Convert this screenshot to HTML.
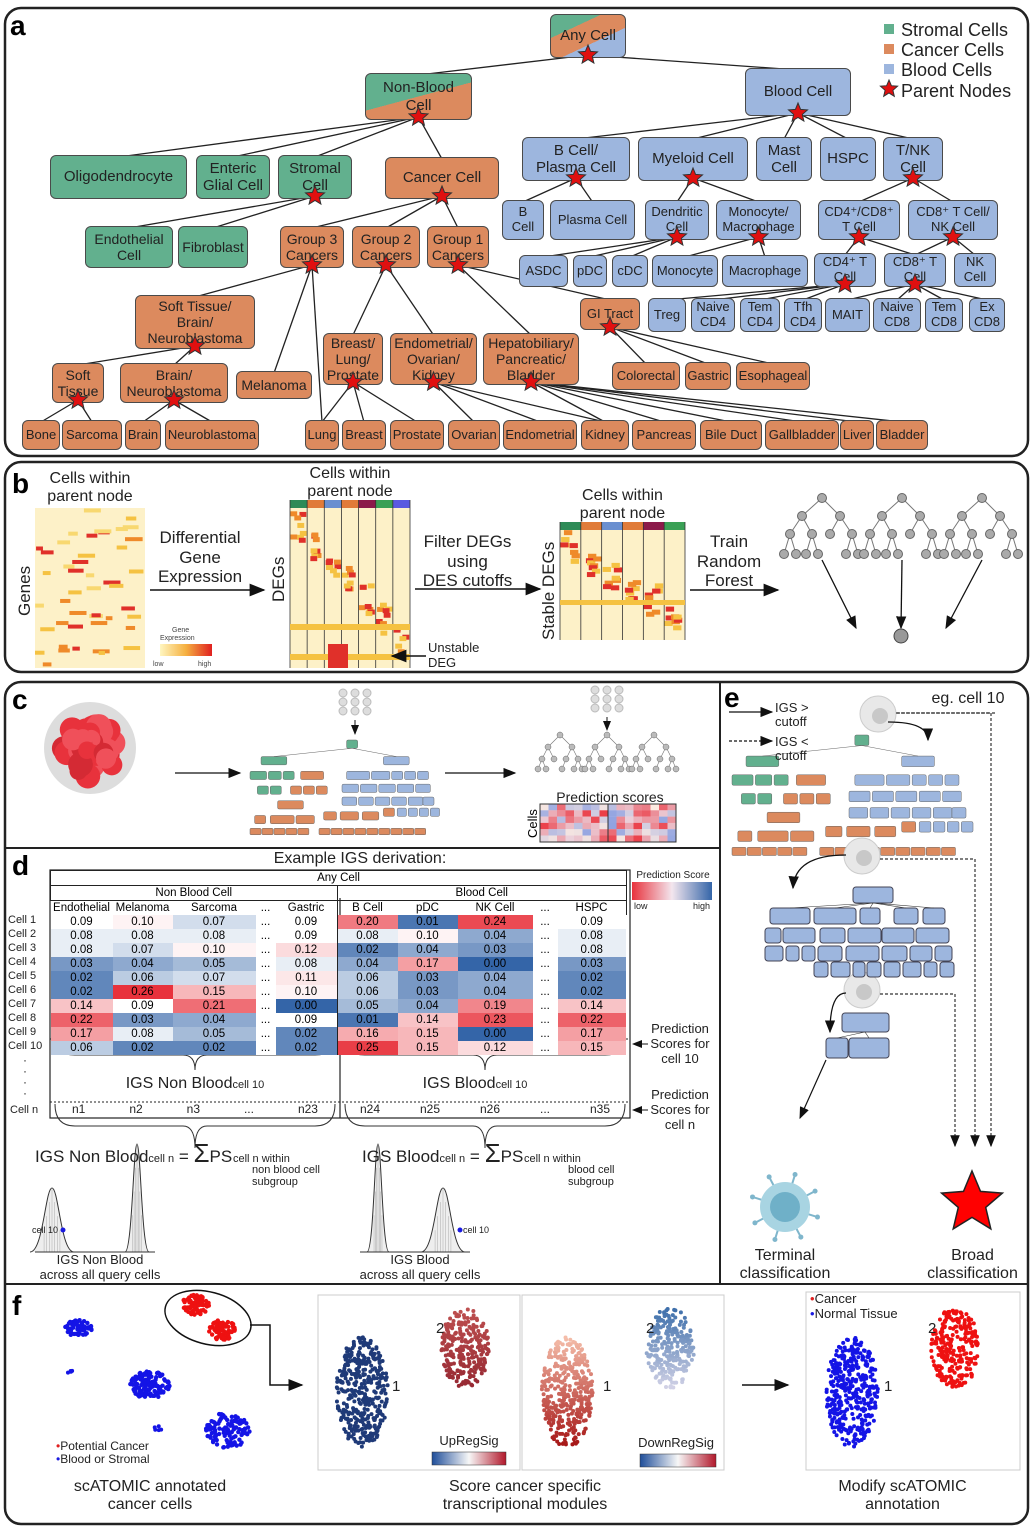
<!DOCTYPE html>
<html><head><meta charset="utf-8">
<style>
body{margin:0;width:1035px;height:1535px;background:#fff;position:relative;font-family:"Liberation Sans",sans-serif;overflow:hidden}
.n{position:absolute;border:1.5px solid #4a4a4a;border-radius:6px;display:flex;align-items:center;justify-content:center;text-align:center;font-size:15px;line-height:1.15;color:#222;box-sizing:border-box;z-index:2}
.g{background:#62b08e}.o{background:#dc8a5e}.b{background:#9db6de}
.s{font-size:13px}
.L{position:absolute;font-weight:bold;font-size:28px;z-index:3}
.t{position:absolute;text-align:center;color:#222;z-index:3;line-height:1.15}
.nw{white-space:nowrap}
svg{position:absolute;left:0;top:0}
#tbl{position:absolute;left:50px;top:870px;border-collapse:collapse;font-size:11.5px;z-index:3}
#tbl td{height:14px;padding:0;text-align:center;line-height:13px}
</style></head><body>
<svg id="bg" width="1035" height="1535" style="z-index:1">
<g fill="none" stroke="#222" stroke-width="2.5">
<rect x="5" y="8" width="1023" height="448" rx="16"/>
<rect x="5" y="462" width="1023" height="210" rx="16"/>
<rect x="5" y="682" width="1023" height="842" rx="16"/>
</g>
<g stroke="#222" stroke-width="2">
<line x1="5" y1="848" x2="720" y2="848"/>
<line x1="720" y1="682" x2="720" y2="1284"/>
<line x1="5" y1="1284" x2="1028" y2="1284"/>
</g>
<g id="edges" stroke="#222" stroke-width="1.3" fill="none"></g>
<g id="stars"></g>
<g id="dyn"></g>
</svg>

<div class="L" style="left:10px;top:10px">a</div>
<div class="L" style="left:12px;top:468px">b</div>
<div class="L" style="left:12px;top:684px">c</div>
<div class="L" style="left:12px;top:850px">d</div>
<div class="L" style="left:724px;top:682px">e</div>
<div class="L" style="left:12px;top:1290px">f</div>

<svg width="1035" height="120" style="z-index:3">
<rect x="884" y="24" width="10" height="10" fill="#62b08e"/>
<rect x="884" y="44" width="10" height="10" fill="#dc8a5e"/>
<rect x="884" y="64" width="10" height="10" fill="#9db6de"/>
<polygon id="lstar" fill="#e01010" stroke="#333" stroke-width="1"/>
<g font-size="18" fill="#222"><text x="901" y="36">Stromal Cells</text><text x="901" y="56">Cancer Cells</text><text x="901" y="76">Blood Cells</text><text x="901" y="97">Parent Nodes</text></g>
</svg>

<div class="n" id="any" style="left:550px;top:14px;width:76px;height:44px;background:linear-gradient(155deg,#62b08e 30%,#dc8a5e 30%,#dc8a5e 62%,#9db6de 62%)">Any Cell</div>
<div class="n" id="nonblood" style="left:365px;top:73px;width:107px;height:47px;background:linear-gradient(165deg,#62b08e 50%,#dc8a5e 50%)">Non-Blood<br>Cell</div>
<div class="n b" id="blood" style="left:745px;top:68px;width:106px;height:48px">Blood Cell</div>
<div class="n g" id="oligo" style="left:50px;top:155px;width:137px;height:44px">Oligodendrocyte</div>
<div class="n g" id="enteric" style="left:196px;top:155px;width:74px;height:44px">Enteric<br>Glial Cell</div>
<div class="n g" id="stromal" style="left:278px;top:155px;width:74px;height:44px">Stromal<br>Cell</div>
<div class="n o" id="cancer" style="left:385px;top:157px;width:114px;height:42px">Cancer Cell</div>
<div class="n b" id="bcp" style="left:522px;top:137px;width:108px;height:44px">B Cell/<br>Plasma Cell</div>
<div class="n b" id="myeloid" style="left:638px;top:137px;width:110px;height:44px">Myeloid Cell</div>
<div class="n b" id="mast" style="left:756px;top:137px;width:56px;height:44px">Mast<br>Cell</div>
<div class="n b" id="hspc" style="left:820px;top:137px;width:56px;height:44px">HSPC</div>
<div class="n b" id="tnk" style="left:883px;top:137px;width:60px;height:44px">T/NK<br>Cell</div>
<div class="n g s" id="endo" style="left:85px;top:226px;width:88px;height:42px;font-size:14px">Endothelial<br>Cell</div>
<div class="n g s" id="fibro" style="left:178px;top:226px;width:70px;height:42px;font-size:14px">Fibroblast</div>
<div class="n o s" id="g3" style="left:280px;top:226px;width:64px;height:42px;font-size:14px">Group 3<br>Cancers</div>
<div class="n o s" id="g2" style="left:352px;top:226px;width:68px;height:42px;font-size:14px">Group 2<br>Cancers</div>
<div class="n o s" id="g1" style="left:427px;top:226px;width:62px;height:42px;font-size:14px">Group 1<br>Cancers</div>
<div class="n b s" id="bc" style="left:502px;top:200px;width:42px;height:40px">B<br>Cell</div>
<div class="n b s" id="plasma" style="left:550px;top:200px;width:85px;height:40px">Plasma Cell</div>
<div class="n b s" id="dend" style="left:645px;top:200px;width:64px;height:40px">Dendritic<br>Cell</div>
<div class="n b s" id="monomac" style="left:716px;top:200px;width:85px;height:40px">Monocyte/<br>Macrophage</div>
<div class="n b s" id="cd48" style="left:818px;top:200px;width:82px;height:40px">CD4⁺/CD8⁺<br>T Cell</div>
<div class="n b s" id="cd8nk" style="left:908px;top:200px;width:90px;height:40px">CD8⁺ T Cell/<br>NK Cell</div>
<div class="n b s" id="asdc" style="left:519px;top:255px;width:49px;height:32px">ASDC</div>
<div class="n b s" id="pdc" style="left:573px;top:255px;width:34px;height:32px">pDC</div>
<div class="n b s" id="cdc" style="left:612px;top:255px;width:36px;height:32px">cDC</div>
<div class="n b s" id="mono" style="left:652px;top:255px;width:66px;height:32px">Monocyte</div>
<div class="n b s" id="macro" style="left:722px;top:255px;width:86px;height:32px">Macrophage</div>
<div class="n b s" id="cd4t" style="left:814px;top:253px;width:62px;height:34px">CD4⁺ T<br>Cell</div>
<div class="n b s" id="cd8t" style="left:884px;top:253px;width:62px;height:34px">CD8⁺ T<br>Cell</div>
<div class="n b s" id="nk" style="left:954px;top:253px;width:42px;height:34px">NK<br>Cell</div>
<div class="n o s" id="stbn" style="left:135px;top:295px;width:120px;height:54px;font-size:14px">Soft Tissue/<br>Brain/<br>Neuroblastoma</div>
<div class="n o s" id="gi" style="left:580px;top:298px;width:60px;height:32px">GI Tract</div>
<div class="n b s" id="treg" style="left:648px;top:298px;width:38px;height:34px">Treg</div>
<div class="n b s" id="ncd4" style="left:691px;top:298px;width:44px;height:34px">Naive<br>CD4</div>
<div class="n b s" id="tcd4" style="left:740px;top:298px;width:40px;height:34px">Tem<br>CD4</div>
<div class="n b s" id="fcd4" style="left:784px;top:298px;width:38px;height:34px">Tfh<br>CD4</div>
<div class="n b s" id="mait" style="left:825px;top:298px;width:45px;height:34px">MAIT</div>
<div class="n b s" id="ncd8" style="left:873px;top:298px;width:48px;height:34px">Naive<br>CD8</div>
<div class="n b s" id="tcd8" style="left:925px;top:298px;width:38px;height:34px">Tem<br>CD8</div>
<div class="n b s" id="ecd8" style="left:969px;top:298px;width:36px;height:34px">Ex<br>CD8</div>
<div class="n o s" id="blp" style="left:323px;top:333px;width:60px;height:52px;font-size:14px">Breast/<br>Lung/<br>Prostate</div>
<div class="n o s" id="eok" style="left:390px;top:333px;width:87px;height:52px;font-size:14px">Endometrial/<br>Ovarian/<br>Kidney</div>
<div class="n o s" id="hpb" style="left:483px;top:333px;width:96px;height:52px;font-size:14px">Hepatobiliary/<br>Pancreatic/<br>Bladder</div>
<div class="n o s" id="mel" style="left:236px;top:371px;width:76px;height:28px;font-size:14px">Melanoma</div>
<div class="n o s" id="soft" style="left:52px;top:363px;width:52px;height:40px;font-size:14px">Soft<br>Tissue</div>
<div class="n o s" id="bn" style="left:120px;top:363px;width:108px;height:40px;font-size:14px">Brain/<br>Neuroblastoma</div>
<div class="n o s" id="colo" style="left:612px;top:362px;width:68px;height:28px">Colorectal</div>
<div class="n o s" id="gas" style="left:685px;top:362px;width:46px;height:28px">Gastric</div>
<div class="n o s" id="eso" style="left:736px;top:362px;width:74px;height:28px">Esophageal</div>
<div class="n o s" id="bone" style="left:22px;top:420px;width:38px;height:30px">Bone</div>
<div class="n o s" id="sarc" style="left:62px;top:420px;width:60px;height:30px">Sarcoma</div>
<div class="n o s" id="brain" style="left:125px;top:420px;width:36px;height:30px">Brain</div>
<div class="n o s" id="neuro" style="left:165px;top:420px;width:94px;height:30px">Neuroblastoma</div>
<div class="n o s" id="lung" style="left:305px;top:420px;width:34px;height:30px">Lung</div>
<div class="n o s" id="breast" style="left:342px;top:420px;width:44px;height:30px">Breast</div>
<div class="n o s" id="pros" style="left:390px;top:420px;width:54px;height:30px">Prostate</div>
<div class="n o s" id="ova" style="left:448px;top:420px;width:52px;height:30px">Ovarian</div>
<div class="n o s" id="endom" style="left:503px;top:420px;width:74px;height:30px">Endometrial</div>
<div class="n o s" id="kid" style="left:581px;top:420px;width:48px;height:30px">Kidney</div>
<div class="n o s" id="panc" style="left:632px;top:420px;width:64px;height:30px">Pancreas</div>
<div class="n o s" id="bile" style="left:700px;top:420px;width:62px;height:30px">Bile Duct</div>
<div class="n o s" id="gall" style="left:765px;top:420px;width:74px;height:30px">Gallbladder</div>
<div class="n o s" id="liver" style="left:840px;top:420px;width:34px;height:30px">Liver</div>
<div class="n o s" id="blad" style="left:876px;top:420px;width:52px;height:30px">Bladder</div>

<div class="t" style="left:30px;top:470px;width:120px;font-size:16px">Cells within<br>parent node</div>
<div class="t" style="left:150px;top:528px;width:100px;font-size:17px">Differential<br>Gene<br>Expression</div>
<div class="t" style="left:290px;top:465px;width:120px;font-size:16px">Cells within<br>parent node</div>
<div class="t" style="left:410px;top:532px;width:115px;font-size:17px">Filter DEGs<br>using<br>DES cutoffs</div>
<div class="t" style="left:560px;top:487px;width:125px;font-size:16px">Cells within<br>parent node</div>
<div class="t" style="left:690px;top:532px;width:78px;font-size:17px">Train<br>Random<br>Forest</div>
<div class="t" style="left:428px;top:641px;width:70px;font-size:13px;text-align:left">Unstable<br>DEG</div>
<svg width="1035" height="1535" style="z-index:3">
<g font-size="17" fill="#222">
<text transform="translate(30,616) rotate(-90)">Genes</text>
<text transform="translate(284,602) rotate(-90)">DEGs</text>
<text transform="translate(554,640) rotate(-90)">Stable DEGs</text>
</g>
<g font-size="7" fill="#444"><text x="172" y="632">Gene</text><text x="160" y="640">Expression</text><text x="153" y="666">low</text><text x="198" y="666">high</text></g>
<defs><linearGradient id="ge"><stop offset="0" stop-color="#fff6c0"/><stop offset=".5" stop-color="#f5b040"/><stop offset="1" stop-color="#e02020"/></linearGradient>
<linearGradient id="ps"><stop offset="0" stop-color="#e8323c"/><stop offset=".5" stop-color="#f3e6ee"/><stop offset="1" stop-color="#3465a8"/></linearGradient>
<marker id="ar" markerWidth="10" markerHeight="8" refX="9" refY="4" orient="auto"><path d="M0,0L10,4L0,8z" fill="#111"/></marker></defs>
<rect x="160" y="644" width="52" height="12" fill="url(#ge)"/>
<g stroke="#111" stroke-width="1.6" marker-end="url(#ar)">
<line x1="150" y1="590" x2="264" y2="590"/>
<line x1="415" y1="589" x2="540" y2="589"/>
<line x1="690" y1="590" x2="778" y2="590"/>
<line x1="426" y1="656" x2="392" y2="656"/>
</g>
</svg>

<div class="t" style="left:540px;top:789px;width:140px;font-size:14px">Prediction scores</div>
<svg width="1035" height="1535" style="z-index:3"><text transform="translate(537,838) rotate(-90)" font-size="13">Cells</text></svg>

<div class="t" style="left:200px;top:850px;width:320px;font-size:16px">Example IGS derivation:</div>
<div class="t" style="left:632px;top:870px;width:82px;font-size:10px">Prediction Score</div>
<div class="t" style="left:634px;top:901px;width:80px;font-size:9px;text-align:left">low<span style="float:right;margin-right:4px">high</span></div>
<table id="tbl">
<tr><td colspan="11" style="border:1px solid #222;border-bottom:1px solid #222">Any Cell</td></tr>
<tr><td colspan="5" style="border:1px solid #222">Non Blood Cell</td><td colspan="6" style="border:1px solid #222">Blood Cell</td></tr>
<tr class="h"><td style="width:62px">Endothelial</td><td style="width:60px">Melanoma</td><td style="width:83px">Sarcoma</td><td style="width:20px">...</td><td style="width:61px;border-right:1px solid #222">Gastric</td><td style="width:60px">B Cell</td><td style="width:60px">pDC</td><td style="width:75px">NK Cell</td><td style="width:25px">...</td><td style="width:68px;border-right:1px solid #222">HSPC</td><td style="width:0"></td></tr>
<tr class="v"><td>0.09</td><td>0.10</td><td>0.07</td><td>...</td><td>0.09</td><td>0.20</td><td>0.01</td><td>0.24</td><td>...</td><td>0.09</td></tr>
<tr class="v"><td>0.08</td><td>0.08</td><td>0.08</td><td>...</td><td>0.09</td><td>0.08</td><td>0.10</td><td>0.04</td><td>...</td><td>0.08</td></tr>
<tr class="v"><td>0.08</td><td>0.07</td><td>0.10</td><td>...</td><td>0.12</td><td>0.02</td><td>0.04</td><td>0.03</td><td>...</td><td>0.08</td></tr>
<tr class="v"><td>0.03</td><td>0.04</td><td>0.05</td><td>...</td><td>0.08</td><td>0.04</td><td>0.17</td><td>0.00</td><td>...</td><td>0.03</td></tr>
<tr class="v"><td>0.02</td><td>0.06</td><td>0.07</td><td>...</td><td>0.11</td><td>0.06</td><td>0.03</td><td>0.04</td><td>...</td><td>0.02</td></tr>
<tr class="v"><td>0.02</td><td>0.26</td><td>0.15</td><td>...</td><td>0.10</td><td>0.06</td><td>0.03</td><td>0.04</td><td>...</td><td>0.02</td></tr>
<tr class="v"><td>0.14</td><td>0.09</td><td>0.21</td><td>...</td><td>0.00</td><td>0.05</td><td>0.04</td><td>0.19</td><td>...</td><td>0.14</td></tr>
<tr class="v"><td>0.22</td><td>0.03</td><td>0.04</td><td>...</td><td>0.09</td><td>0.01</td><td>0.14</td><td>0.23</td><td>...</td><td>0.22</td></tr>
<tr class="v"><td>0.17</td><td>0.08</td><td>0.05</td><td>...</td><td>0.02</td><td>0.16</td><td>0.15</td><td>0.00</td><td>...</td><td>0.17</td></tr>
<tr class="v"><td>0.06</td><td>0.02</td><td>0.02</td><td>...</td><td>0.02</td><td>0.25</td><td>0.15</td><td>0.12</td><td>...</td><td>0.15</td></tr>
</table>
<div class="t" style="left:8px;top:913px;width:40px;font-size:11px;text-align:left;line-height:14px">Cell 1<br>Cell 2<br>Cell 3<br>Cell 4<br>Cell 5<br>Cell 6<br>Cell 7<br>Cell 8<br>Cell 9<br>Cell 10</div>
<div class="t" style="left:20px;top:1055px;width:10px;font-size:12px;line-height:11px">·<br>·<br>·<br>·</div>
<div class="t" style="left:10px;top:1104px;width:40px;font-size:11px;text-align:left">Cell n</div>
<div class="t nw" style="left:95px;top:1075px;width:200px;font-size:16px">IGS Non Blood<span style="font-size:11px">cell 10</span></div>
<div class="t nw" style="left:390px;top:1075px;width:170px;font-size:16px">IGS Blood<span style="font-size:11px">cell 10</span></div>
<div class="t" style="left:50px;top:1103px;width:290px;font-size:12px;display:flex;justify-content:space-around"><span>n1</span><span>n2</span><span>n3</span><span>...</span><span>n23</span></div>
<div class="t" style="left:340px;top:1103px;width:290px;font-size:12px;display:flex;justify-content:space-around"><span>n24</span><span>n25</span><span>n26</span><span>...</span><span>n35</span></div>
<div class="t" style="left:645px;top:1022px;width:70px;font-size:13px">Prediction<br>Scores for<br>cell 10</div>
<div class="t" style="left:645px;top:1088px;width:70px;font-size:13px">Prediction<br>Scores for<br>cell n</div>
<div class="t nw" style="left:35px;top:1143px;font-size:17px;text-align:left">IGS Non Blood<span style="font-size:11px">cell n</span> = <span style="font-size:26px;line-height:20px">Σ</span>PS</div>
<div class="t nw" style="left:233px;top:1153px;font-size:11px;text-align:left">cell n within</div>
<div class="t nw" style="left:252px;top:1164px;font-size:11px;text-align:left;line-height:12px">non blood cell<br>subgroup</div>
<div class="t nw" style="left:362px;top:1143px;font-size:17px;text-align:left">IGS Blood<span style="font-size:11px">cell n</span> = <span style="font-size:26px;line-height:20px">Σ</span>PS</div>
<div class="t nw" style="left:524px;top:1153px;font-size:11px;text-align:left">cell n within</div>
<div class="t nw" style="left:568px;top:1164px;font-size:11px;text-align:left;line-height:12px">blood cell<br>subgroup</div>
<div class="t" style="left:25px;top:1225px;width:40px;font-size:9px">cell 10</div>
<div class="t" style="left:456px;top:1225px;width:40px;font-size:9px">cell 10</div>
<div class="t" style="left:20px;top:1253px;width:160px;font-size:13px">IGS Non Blood<br>across all query cells</div>
<div class="t" style="left:340px;top:1253px;width:160px;font-size:13px">IGS Blood<br>across all query cells</div>

<div class="t" style="left:775px;top:701px;width:60px;font-size:13px;text-align:left;line-height:14px">IGS &gt;<br>cutoff</div>
<div class="t" style="left:775px;top:735px;width:60px;font-size:13px;text-align:left;line-height:14px">IGS &lt;<br>cutoff</div>
<div class="t" style="left:918px;top:690px;width:100px;font-size:16px">eg. cell 10</div>
<div class="t" style="left:725px;top:1247px;width:120px;font-size:16px">Terminal<br>classification</div>
<div class="t" style="left:915px;top:1247px;width:115px;font-size:16px">Broad<br>classification</div>

<div class="t" style="left:50px;top:1478px;width:200px;font-size:16px">scATOMIC annotated<br>cancer cells</div>
<div class="t" style="left:400px;top:1478px;width:250px;font-size:16px">Score cancer specific<br>transcriptional modules</div>
<div class="t" style="left:805px;top:1478px;width:195px;font-size:16px">Modify scATOMIC<br>annotation</div>
<div class="t" style="left:56px;top:1440px;width:120px;font-size:12px;text-align:left;line-height:13px"><span style="color:#e02020">•</span>Potential Cancer<br><span style="color:#1a1ae0">•</span>Blood or Stromal</div>
<div class="t" style="left:810px;top:1291px;width:120px;font-size:13px;text-align:left;line-height:15px"><span style="color:#e02020">•</span>Cancer<br><span style="color:#1a1ae0">•</span>Normal Tissue</div>
<div class="t" style="left:434px;top:1434px;width:70px;font-size:13px">UpRegSig</div>
<div class="t" style="left:636px;top:1436px;width:80px;font-size:13px">DownRegSig</div>
<div class="t" style="left:392px;top:1378px;font-size:15px">1</div>
<div class="t" style="left:436px;top:1320px;font-size:15px">2</div>
<div class="t" style="left:603px;top:1378px;font-size:15px">1</div>
<div class="t" style="left:646px;top:1320px;font-size:15px">2</div>
<div class="t" style="left:884px;top:1378px;font-size:15px">1</div>
<div class="t" style="left:928px;top:1320px;font-size:15px">2</div>

<script>
var NS="http://www.w3.org/2000/svg";
function el(t,a,p){var e=document.createElementNS(NS,t);for(var k in a)e.setAttribute(k,a[k]);(p||document.getElementById('dyn')).appendChild(e);return e;}
function starPts(cx,cy,R){var r=R*0.45,p=[];for(var i=0;i<10;i++){var a=-Math.PI/2+i*Math.PI/5,rr=i%2?r:R;p.push((cx+rr*Math.cos(a)).toFixed(1)+","+(cy+rr*Math.sin(a)).toFixed(1));}return p.join(" ");}
document.getElementById('lstar').setAttribute('points',starPts(889,89,9));
function box(id){var e=document.getElementById(id);return {x:e.offsetLeft,y:e.offsetTop,w:e.offsetWidth,h:e.offsetHeight};}
var E={any:['nonblood','blood'],nonblood:['oligo','enteric','stromal','cancer'],stromal:['endo','fibro'],cancer:['g3','g2','g1'],
blood:['bcp','myeloid','mast','hspc','tnk'],bcp:['bc','plasma'],myeloid:['dend','monomac'],dend:['asdc','pdc','cdc'],monomac:['mono','macro'],
tnk:['cd48','cd8nk'],cd48:['cd4t','cd8t'],cd8nk:['cd8t','nk'],cd4t:['treg','ncd4','tcd4','fcd4'],cd8t:['mait','ncd8','tcd8','ecd8'],
g3:['stbn','mel','lung'],g2:['blp','eok'],g1:['hpb','gi'],stbn:['soft','bn'],soft:['bone','sarc'],bn:['brain','neuro'],
blp:['lung','breast','pros'],eok:['ova','endom','kid'],hpb:['panc','bile','gall','liver','blad','kid'],gi:['colo','gas','eso']};
var eg=document.getElementById('edges'),sg=document.getElementById('stars');
for(var p in E){var a=box(p),sx=a.x+a.w/2,sy=a.y+a.h-3;
E[p].forEach(function(c){var b=box(c);el('line',{x1:sx,y1:sy,x2:b.x+b.w/2,y2:b.y+2},eg);});
el('polygon',{points:starPts(sx,sy,10),fill:'#e01010',stroke:'#333','stroke-width':1},sg);}
var sv=document.createElementNS(NS,'svg');sv.setAttribute('width',1035);sv.setAttribute('height',470);sv.style.zIndex=4;sv.style.position='absolute';sv.style.left=0;sv.style.top=0;sv.appendChild(sg);document.body.appendChild(sv);

var s=7;function r(){s=(s*16807)%2147483647;return s/2147483647;}
el('rect',{x:35,y:508,width:110,height:160,fill:'#fdf1c8'});
var cols=['#f5c242','#ef8a2a','#e0302a','#f8d870'];
for(var i=0;i<45;i++)el('rect',{x:35+r()*100,y:508+r()*155,width:6+r()*12,height:4,fill:cols[i%4]});
function hm(x,y,w,h,n,bar,extra){el('rect',{x:x,y:y,width:w,height:h,fill:'#fdf1c8'});var cw=w/n;
var bc=['#2e8b57','#e07b39','#6a8fd0','#e07b39','#8b1a4a','#3aa055','#5a5ae0'];
for(var i=0;i<n;i++){el('rect',{x:x+i*cw,y:y,width:cw,height:bar,fill:bc[i%7]});
var by=y+bar+i*(h-bar-30)/n;for(var k=0;k<8;k++)el('rect',{x:x+i*cw+r()*cw*0.6,y:by+r()*30,width:cw*0.4,height:5,fill:cols[(k+i)%3+0]});
el('line',{x1:x+i*cw,y1:y,x2:x+i*cw,y2:y+h,stroke:'#333','stroke-width':0.8});}
el('line',{x1:x+w,y1:y,x2:x+w,y2:y+h,stroke:'#333','stroke-width':0.8});
if(extra){el('rect',{x:x,y:y+h-44,width:w,height:6,fill:'#f5c242'});el('rect',{x:x,y:y+h-14,width:w,height:6,fill:'#f5c242'});el('rect',{x:x+38,y:y+h-24,width:20,height:24,fill:'#e0302a'});}
else{el('rect',{x:x,y:y+h-40,width:w,height:5,fill:'#f5c242'});}}
hm(290,500,120,168,7,8,true);
hm(560,522,125,118,6,8,false);
function tree(cx,ty){var L=[[cx-20,ty+18],[cx+18,ty+18]],L2=[[cx-32,ty+36],[cx-10,ty+36],[cx+8,ty+36],[cx+30,ty+36]],L3=[[cx-38,ty+56],[cx-26,ty+56],[cx-16,ty+56],[cx-4,ty+56],[cx+24,ty+56],[cx+36,ty+56]];
L.forEach(function(q){el('line',{x1:cx,y1:ty,x2:q[0],y2:q[1],stroke:'#777'});});
L2.forEach(function(q,i){var pp=L[i<2?0:1];el('line',{x1:pp[0],y1:pp[1],x2:q[0],y2:q[1],stroke:'#777'});});
L3.forEach(function(q,i){var pp=L2[[0,0,1,1,3,3][i]];el('line',{x1:pp[0],y1:pp[1],x2:q[0],y2:q[1],stroke:'#777'});});
[[cx,ty]].concat(L,L2,L3).forEach(function(q){el('circle',{cx:q[0],cy:q[1],r:4.5,fill:'#aaa',stroke:'#666'});});}
tree(822,498);tree(902,498);tree(982,498);
['822','902','982'].forEach(function(x){el('line',{x1:x,y1:560,x2:(+x+900)/2+ (x=='902'?0:(x<900?-5:5)),y2:628,stroke:'#111','stroke-width':1.3,'marker-end':'url(#ar)'});});
el('circle',{cx:901,cy:636,r:7,fill:'#999',stroke:'#444'});
el('circle',{cx:90,cy:748,r:46,fill:'#ddd'});
for(var i=0;i<60;i++){var a=r()*6.28,d=r()*30;el('circle',{cx:90+d*Math.cos(a),cy:748+d*Math.sin(a),r:8+r()*5,fill:['#e8323c','#d42a34','#f0505a'][i%3]});}
el('line',{x1:175,y1:773,x2:240,y2:773,stroke:'#111','stroke-width':1.3,'marker-end':'url(#ar)'});
el('line',{x1:445,y1:773,x2:515,y2:773,stroke:'#111','stroke-width':1.3,'marker-end':'url(#ar)'});
function dots(cx,cy){for(var i=0;i<3;i++)for(var j=0;j<3;j++)el('circle',{cx:cx-12+j*12,cy:cy+i*9,r:4,fill:'#ddd',stroke:'#bbb'});}
dots(355,693);dots(607,690);
el('line',{x1:355,y1:720,x2:355,y2:734,stroke:'#111','marker-end':'url(#ar)'});
el('line',{x1:607,y1:717,x2:607,y2:730,stroke:'#111','marker-end':'url(#ar)'});
function mini(x0,y0,sc){var G='#62b08e',O='#dc8a5e',B='#9db6de';
var rows=[[[105,0,12,G]],[[12,18,28,G],[145,18,28,B]],[[0,34,18,G],[20,34,14,G],[36,34,12,G],[55,34,25,O],[105,34,25,B],[132,34,20,B],[154,34,12,B],[168,34,12,B],[182,34,12,B]],
[[8,50,12,G],[22,50,12,G],[44,50,12,O],[58,50,12,O],[72,50,12,O],[100,48,18,B],[120,48,18,B],[140,48,18,B],[160,48,18,B],[180,48,16,B]],
[[30,66,28,O],[100,62,16,B],[118,62,16,B],[136,62,16,B],[154,62,16,B],[172,62,16,B],[188,62,12,B]],
[[5,82,12,O],[22,82,26,O],[50,82,20,O],[80,78,14,O],[98,78,20,O],[122,78,18,O],[145,74,12,O],[160,74,10,B],[172,74,10,B],[184,74,10,B],[196,74,10,B]],
[[0,96,210,O]]];
rows.forEach(function(rw){rw.forEach(function(q){if(q[2]>150){for(var k=0;k<14;k++)el('rect',{x:x0+(q[0]+k*13+(k>4?10:0))*sc,y:y0+q[1]*sc,width:12*sc,height:7*sc,fill:q[3],stroke:'#666','stroke-width':.5,rx:1});}
else el('rect',{x:x0+q[0]*sc,y:y0+q[1]*sc,width:q[2]*sc,height:9*sc,fill:q[3],stroke:'#666','stroke-width':.5,rx:1.5});});});
el('line',{x1:x0+111*sc,y1:y0+9*sc,x2:x0+26*sc,y2:y0+18*sc,stroke:'#666','stroke-width':.5});el('line',{x1:x0+111*sc,y1:y0+9*sc,x2:x0+159*sc,y2:y0+18*sc,stroke:'#666','stroke-width':.5});}
mini(250,740,0.92);
mini(732,735,1.17);
[[560,735],[607,735],[654,735]].forEach(function(q){var c=q[0],t=q[1];
[[c-12,t+12],[c+12,t+12],[c-18,t+24],[c-6,t+24],[c+6,t+24],[c+18,t+24],[c-22,t+34],[c-14,t+34],[c+2,t+34],[c+14,t+34],[c+22,t+34]].forEach(function(z,i){var par=i<2?[c,t]:(i<6?[i<4?c-12:c+12,t+12]:[[c-18,t+24],[c-18,t+24],[c+6,t+24],[c+18,t+24],[c+18,t+24]][i-6]);el('line',{x1:par[0],y1:par[1],x2:z[0],y2:z[1],stroke:'#777','stroke-width':.6});});
[[c,t],[c-12,t+12],[c+12,t+12],[c-18,t+24],[c-6,t+24],[c+6,t+24],[c+18,t+24],[c-22,t+34],[c-14,t+34],[c+2,t+34],[c+14,t+34],[c+22,t+34]].forEach(function(z){el('circle',{cx:z[0],cy:z[1],r:3,fill:'#bbb',stroke:'#666','stroke-width':.5});});});
for(var i=0;i<6;i++)for(var j=0;j<16;j++){var v=r();var c=v<.5?'rgb('+Math.round(140+230*v)+','+Math.round(160+150*v)+',225)':'rgb(235,'+Math.round(360-300*v)+','+Math.round(370-300*v)+')';el('rect',{x:540+j*8.5,y:804+i*6.3,width:8.6,height:6.4,fill:c});}
el('rect',{x:540,y:804,width:136,height:38,fill:'none',stroke:'#333'});
el('line',{x1:608,y1:804,x2:608,y2:842,stroke:'#333'});
el('rect',{x:632,y:882,width:80,height:18,fill:'url(#ps)'});
el('rect',{x:50,y:870,width:580,height:248,fill:'none',stroke:'#222','stroke-width':1.2});
el('line',{x1:340,y1:898,x2:340,y2:1118,stroke:'#222','stroke-width':1.2});
el('line',{x1:50,y1:1102,x2:630,y2:1102,stroke:'#222','stroke-dasharray':'2,2'});
el('line',{x1:50,y1:1039,x2:630,y2:1039,stroke:'#222','stroke-dasharray':'2,2'});
function brace(x1,x2,y,d){var m=(x1+x2)/2;el('path',{d:'M'+x1+','+y+' Q'+x1+','+(y+d*0.5)+' '+(x1+20)+','+(y+d*0.5)+' L'+(m-12)+','+(y+d*0.5)+' Q'+m+','+(y+d*0.5)+' '+m+','+(y+d)+' Q'+m+','+(y+d*0.5)+' '+(m+12)+','+(y+d*0.5)+' L'+(x2-20)+','+(y+d*0.5)+' Q'+x2+','+(y+d*0.5)+' '+x2+','+y,fill:'none',stroke:'#333','stroke-width':1});}
brace(55,335,1040,30);brace(345,625,1040,30);brace(55,335,1104,44);brace(345,625,1104,44);
el('line',{x1:648,y1:1044,x2:633,y2:1044,stroke:'#111','marker-end':'url(#ar)'});
el('line',{x1:648,y1:1110,x2:633,y2:1110,stroke:'#111','marker-end':'url(#ar)'});
function peak(cx,w,h,base){el('path',{d:'M'+(cx-w)+','+base+' C'+(cx-w*0.4)+','+base+' '+(cx-w*0.3)+','+(base-h)+' '+cx+','+(base-h)+' C'+(cx+w*0.3)+','+(base-h)+' '+(cx+w*0.4)+','+base+' '+(cx+w)+','+base,fill:'#eee',stroke:'#333','stroke-width':1});
for(var k=-3;k<=3;k++)el('line',{x1:cx+k*w*0.12,y1:base,x2:cx+k*w*0.12,y2:base-h*(1-Math.abs(k)*0.22),stroke:'#aaa','stroke-width':.5});}
peak(52,22,64,1252);peak(137,12,108,1252);peak(378,11,108,1252);peak(443,22,64,1252);
el('line',{x1:35,y1:1252,x2:155,y2:1252,stroke:'#333'});el('line',{x1:360,y1:1252,x2:470,y2:1252,stroke:'#333'});
el('circle',{cx:63,cy:1230,r:2.5,fill:'#1a1ae0'});el('circle',{cx:460,cy:1230,r:2.5,fill:'#1a1ae0'});
function cell(cx,cy){el('circle',{cx:cx,cy:cy,r:18,fill:'#e8e8e8',stroke:'#ccc'});el('circle',{cx:cx+2,cy:cy+2,r:8,fill:'#c8c8c8'});}
el('line',{x1:729,y1:712,x2:772,y2:712,stroke:'#111','stroke-width':1.3,'marker-end':'url(#ar)'});
el('line',{x1:729,y1:741,x2:772,y2:741,stroke:'#111','stroke-width':1.3,'stroke-dasharray':'3,2','marker-end':'url(#ar)'});
cell(878,714);cell(862,856);cell(862,990);
var ds={stroke:'#333','stroke-width':1.2,'stroke-dasharray':'3,2',fill:'none','marker-end':'url(#ar)'};
el('path',Object.assign({d:'M896,713 H991 V1146'},ds));el('path',{d:'M897,713 H995',stroke:'#333','stroke-width':1.2,'stroke-dasharray':'3,2'});
el('path',Object.assign({d:'M880,859 H975 V1146'},ds));
el('path',Object.assign({d:'M880,994 H955 V1146'},ds));
el('path',{d:'M888,722 Q928,722 928,740',stroke:'#111','stroke-width':1.3,fill:'none','marker-end':'url(#ar)'});
el('path',{d:'M846,855 Q795,855 793,888',stroke:'#111','stroke-width':1.3,fill:'none','marker-end':'url(#ar)'});
el('path',{d:'M846,993 Q830,993 830,1032',stroke:'#111','stroke-width':1.3,fill:'none','marker-end':'url(#ar)'});
function bb(x,y,w,h){el('rect',{x:x,y:y,width:w,height:h,fill:'#9db6de',stroke:'#445','stroke-width':1,rx:3});}
bb(853,887,40,16);
[[770,908,40],[814,908,42],[860,908,20],[894,908,24],[923,908,22]].forEach(function(q){bb(q[0],q[1],q[2],16);el('line',{x1:873,y1:903,x2:q[0]+q[2]/2,y2:908,stroke:'#333','stroke-width':.6});});
[[765,928,16],[783,928,32],[820,928,25],[848,928,33],[882,928,32],[916,928,33]].forEach(function(q){bb(q[0],q[1],q[2],15);});
[[765,946,18],[786,946,13],[802,946,13],[818,946,24],[846,946,33],[882,946,25],[910,946,22],[935,946,17]].forEach(function(q){bb(q[0],q[1],q[2],15);});
[[814,962,14],[831,962,19],[853,962,12],[867,962,14],[884,962,16],[903,962,18],[924,962,13],[940,962,14]].forEach(function(q){bb(q[0],q[1],q[2],15);});
bb(842,1013,47,19);bb(826,1038,22,20);bb(849,1038,40,20);
el('line',{x1:865,y1:1032,x2:837,y2:1038,stroke:'#333','stroke-width':.6});el('line',{x1:865,y1:1032,x2:869,y2:1038,stroke:'#333','stroke-width':.6});
el('line',{x1:826,y1:1060,x2:800,y2:1118,stroke:'#111','stroke-width':1.2,'marker-end':'url(#ar)'});
el('polygon',{points:starPts(972,1203,32),fill:'#f00',stroke:'#222','stroke-width':1.5});
for(var k=0;k<8;k++){var a=k*Math.PI/4+0.3,x1=785+24*Math.cos(a),y1=1207+24*Math.sin(a),x2=785+34*Math.cos(a),y2=1207+34*Math.sin(a);el('line',{x1:x1,y1:y1,x2:x2,y2:y2,stroke:'#7fb6cc','stroke-width':2});el('circle',{cx:x2,cy:y2,r:2.5,fill:'#7fb6cc'});}
el('circle',{cx:785,cy:1207,r:25,fill:'#a8d4e2'});el('circle',{cx:785,cy:1207,r:15,fill:'#6fb0c8'});
el('rect',{x:318,y:1295,width:202,height:175,fill:'none',stroke:'#ccc'});el('rect',{x:522,y:1295,width:202,height:175,fill:'none',stroke:'#ccc'});el('rect',{x:806,y:1292,width:214,height:178,fill:'none',stroke:'#ccc'});
function blob(cx,cy,rx,ry,n,colf,rad){for(var i=0;i<n;i++){var a=r()*6.283,d=Math.sqrt(r());var x=cx+rx*d*Math.cos(a),y=cy+ry*d*Math.sin(a);el('circle',{cx:x,cy:y,r:rad||2,fill:colf(x,y)});}}
var BL=function(){return '#1414e6'},RD=function(){return '#ee1111'};
blob(78,1328,14,8,60,BL,2.2);blob(150,1385,20,14,140,BL,2.2);blob(228,1430,22,18,110,BL,2.2);blob(70,1372,3,3,4,BL);blob(158,1428,4,3,5,BL);
blob(195,1305,14,10,80,RD,2.2);blob(222,1330,14,10,80,RD,2.2);
el('ellipse',{cx:208,cy:1318,rx:44,ry:26,fill:'none',stroke:'#111','stroke-width':1.5,transform:'rotate(15 208 1318)'});
el('path',{d:'M250,1325 H270 V1385 H302',stroke:'#111','stroke-width':1.5,fill:'none','marker-end':'url(#ar)'});
el('line',{x1:742,y1:1385,x2:788,y2:1385,stroke:'#111','stroke-width':1.5,'marker-end':'url(#ar)'});
function twoClusters(ox,f1,f2){blob(ox+42,1392,26,55,380,f1,2);blob(ox+145,1348,24,40,260,f2,2);}
twoClusters(320,function(x,y){return '#1f3a78'},function(x,y){var t=(y-1308)/80;return 'rgb('+Math.round(190-40*t)+','+Math.round(80-40*t)+','+Math.round(80-30*t)+')';});
twoClusters(525,function(x,y){var t=(y-1337)/110;return 'rgb('+Math.round(245-80*t)+','+Math.round(190-170*t)+','+Math.round(170-150*t)+')';},function(x,y){var t=(y-1308)/80;return 'rgb('+Math.round(60+150*t)+','+Math.round(110+100*t)+','+Math.round(170+60*t)+')';});
twoClusters(810,BL,RD);
var g1=el('linearGradient',{id:'div'});[['0','#1f4e9a'],['.5','#f7f7f7'],['1','#b2182b']].forEach(function(q){el('stop',{offset:q[0],'stop-color':q[1]},g1);});
el('rect',{x:432,y:1452,width:74,height:13,fill:'url(#div)',stroke:'#333','stroke-width':.5});
el('rect',{x:640,y:1454,width:76,height:13,fill:'url(#div)',stroke:'#333','stroke-width':.5});
var rows=document.querySelectorAll('#tbl tr.v');
rows.forEach(function(tr){tr.querySelectorAll('td').forEach(function(td,i){var t=td.textContent;if(t=='...'){td.style.background='#fff';return;}var v=parseFloat(t),c;
if(v<=0.09){var k=(0.09-v)/0.09;c=[255-(255-52)*k,255-(255-101)*k,255-(255-168)*k];}else{var k=Math.min(1,(v-0.09)/0.17);c=[255-(255-232)*k,255-(255-50)*k,255-(255-60)*k];}
td.style.background='rgb('+c.map(Math.round).join(',')+')';if(i==4)td.style.borderRight='1px solid #222';});});
</script>
</body></html>
